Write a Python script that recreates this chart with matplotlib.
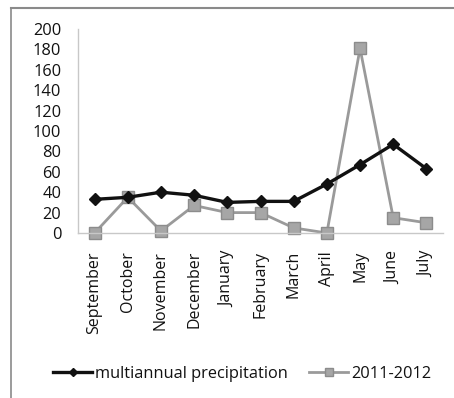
import numpy as np
import matplotlib
matplotlib.use('Agg')
import matplotlib.pyplot as plt
from matplotlib.lines import Line2D

plt.rcParams['font.family'] = ['Open Sans', 'DejaVu Sans']

months = ['September', 'October', 'November', 'December', 'January', 'February',
          'March', 'April', 'May', 'June', 'July']
multiannual = [33, 35, 40, 37, 30, 31, 31, 48, 67, 87, 63]
season_2011 = [0, 35, 2, 27, 20, 20, 5, 0, 181, 15, 10]
yticks = list(range(0, 201, 20))

W, H = 454, 398
fig = plt.figure(figsize=(W / 100, H / 100), dpi=100)
fig.patch.set_facecolor('white')

# outer chart frame (left and top edges only visible)
fig.add_artist(Line2D([11 / W, 11 / W], [0, 1 - 8 / H], transform=fig.transFigure,
                      color='#8a8a8a', lw=1.2))
fig.add_artist(Line2D([11 / W, 1], [1 - 8 / H, 1 - 8 / H], transform=fig.transFigure,
                      color='#8a8a8a', lw=1.5))

x0, x1 = 78, 443
y0, y1 = 233, 29
ax = fig.add_axes([x0 / W, 1 - y0 / H, (x1 - x0) / W, (y0 - y1) / H])

x = np.arange(len(months))
ax.plot(x, season_2011, color='#9a9a9a', lw=2, marker='s', ms=9,
        mfc='#a6a6a6', mec='#8c8c8c', mew=1, label='2011-2012', zorder=2)
ax.plot(x, multiannual, color='#111111', lw=2.4, marker='D', ms=6.5,
        mfc='#111111', mec='#111111', label='multiannual precipitation', zorder=3)

ax.set_xlim(-0.5, len(months) - 0.5)
ax.set_ylim(0, 200)
ax.set_yticks(yticks)
ax.set_yticklabels([str(v) for v in yticks], fontsize=11.8, color='#111111')
ax.set_xticks(x)
ax.set_xticklabels(months, rotation=90, fontsize=11.5, color='#111111')
ax.tick_params(axis='x', length=0, pad=13)
ax.tick_params(axis='y', length=0, pad=12)
for side in ['top', 'right']:
    ax.spines[side].set_visible(False)
ax.spines['left'].set_color('#c8c8c8')
ax.spines['bottom'].set_color('#c8c8c8')
ax.spines['left'].set_linewidth(1)
ax.spines['bottom'].set_linewidth(1)
for ln in ax.lines:
    ln.set_clip_on(False)

handles, labels = ax.get_legend_handles_labels()
leg = fig.legend(handles[::-1], labels[::-1], loc='center', ncol=2, frameon=False,
                 bbox_to_anchor=(242 / W, 1 - 374 / H), fontsize=11.8,
                 handlelength=2.4, handletextpad=0.15, columnspacing=1.3,
                 markerscale=0.7)
for t in leg.get_texts():
    t.set_color('#111111')

fig.savefig('out.png', dpi=100, facecolor='white')
